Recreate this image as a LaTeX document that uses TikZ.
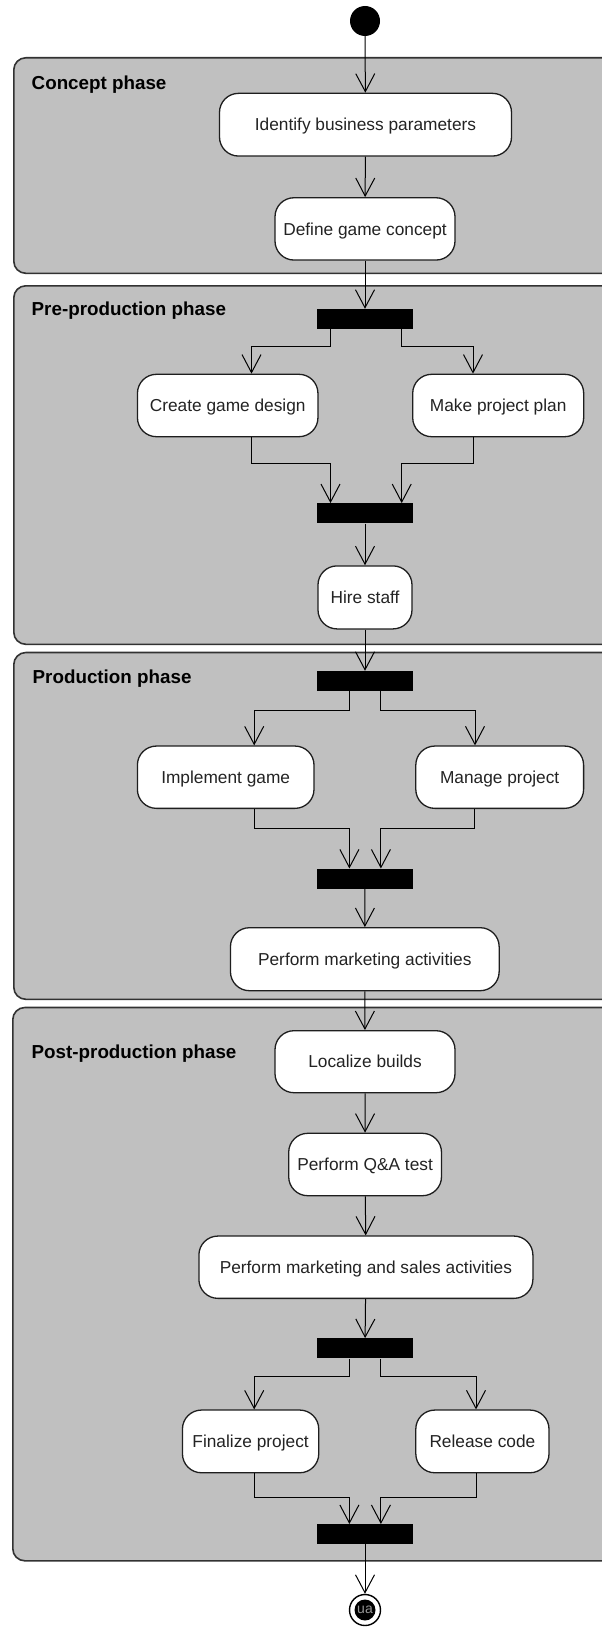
\documentclass[tikz,border=0pt]{standalone}
\usepackage{fontspec}
\setmainfont{Liberation Sans}
\usetikzlibrary{arrows.meta}

\definecolor{phasefill}{RGB}{192,192,192}
\definecolor{phaseline}{RGB}{50,50,50}
\definecolor{actline}{RGB}{30,30,30}
\definecolor{acttext}{RGB}{35,35,35}
\definecolor{endtext}{RGB}{150,150,150}

\tikzset{
  phasebox/.style={draw=phaseline, fill=phasefill, line width=1.6pt,
    rounded corners=12pt, anchor=north west, inner sep=0pt},
  phaselabel/.style={anchor=base west, inner sep=0pt, text=black,
    font=\bfseries\fontsize{18.8}{22}\selectfont},
  activity/.style={draw=actline, fill=white, line width=1.3pt,
    rounded corners=19pt, inner sep=0pt, text=acttext,
    text height=12.4pt, text depth=0pt,
    font=\fontsize{17.3}{20}\selectfont},
  bar/.style={fill=black, draw=none, minimum width=96pt, minimum height=20pt, inner sep=0pt},
  flow/.style={draw=black, line width=1pt,
    -{Straight Barb[length=18pt, width=19pt, line width=1pt]}},
}

\begin{document}
\begin{tikzpicture}[x=1pt, y=-1pt]
\useasboundingbox (0,0) rectangle (602,1627);
\clip (0,0) rectangle (602,1627);

% phase containers
\node[phasebox, minimum width=640pt, minimum height=215.5pt] (concept) at (13,57) {};
\node[phasebox, minimum width=640pt, minimum height=358.5pt] (pre) at (13,285) {};
\node[phasebox, minimum width=640pt, minimum height=346.8pt] (prod) at (13,651.7) {};
\node[phasebox, minimum width=640pt, minimum height=553.3pt] (post) at (12,1006.7) {};

\node[phaselabel] (conceptlbl) at (31.5,89.3) {Concept phase};
\node[phaselabel] (prelbl) at (31.5,315) {Pre-production phase};
\node[phaselabel] (prodlbl) at (32.5,683.3) {Production phase};
\node[phaselabel] (postlbl) at (31.5,1058.3) {Post-production phase};

% start node
\node[circle, fill=black, minimum size=30pt, inner sep=0pt] (start) at (365,21) {};

% concept phase
\node[activity, minimum width=292pt, minimum height=62.7pt] (ident) at (365.5,124.7) {Identify business parameters};
\node[activity, minimum width=180pt, minimum height=62.3pt] (define) at (365,228.9) {Define game concept};

% pre-production phase
\node[bar] (fork1) at (365,319) {};
\node[activity, minimum width=180.5pt, minimum height=62.4pt] (create) at (227.7,405.5) {Create game design};
\node[activity, minimum width=171pt, minimum height=62.4pt] (plan) at (498.2,405.5) {Make project plan};
\node[bar] (join1) at (365,513.3) {};
\node[activity, minimum width=94pt, minimum height=63pt] (hire) at (365,597.4) {Hire staff};

% production phase
\node[bar] (fork2) at (365,681) {};
\node[activity, minimum width=176.6pt, minimum height=62.3pt] (implement) at (225.7,777.2) {Implement game};
\node[activity, minimum width=167.8pt, minimum height=62.3pt] (manage) at (499.7,777.2) {Manage project};
\node[bar] (join2) at (365,878.7) {};
\node[activity, minimum width=268.7pt, minimum height=63pt] (marketing) at (364.8,959.2) {Perform marketing activities};

% post-production phase
\node[activity, minimum width=180pt, minimum height=62pt] (localize) at (365,1061.7) {Localize builds};
\node[activity, minimum width=152.8pt, minimum height=62.4pt] (qa) at (365.1,1164.5) {Perform Q\&A test};
\node[activity, minimum width=334pt, minimum height=62.3pt] (sales) at (365.9,1267.2) {Perform marketing and sales activities};
\node[bar] (fork4) at (365,1348.3) {};
\node[activity, minimum width=136.3pt, minimum height=62.7pt] (finalize) at (250.6,1441.4) {Finalize project};
\node[activity, minimum width=133.2pt, minimum height=62.7pt] (release) at (482.4,1441.4) {Release code};
\node[bar] (join4) at (365,1534.2) {};

% final node
\node[circle, draw=black, fill=white, line width=1.4pt, minimum size=31pt, inner sep=0pt] (final) at (365,1610) {};
\node[circle, fill=black, minimum size=21pt, inner sep=0pt] (finaldot) at (final.center) {};
\node[text=endtext, font=\fontsize{14}{15}\selectfont, inner sep=0pt] (finaltxt) at (final.center) {ua};

% control flow
\draw[flow] (start) -- (ident);
\draw[flow] (ident) -- (define);
\draw[flow] (define) -- (fork1);

\draw[flow] ([xshift=-34.5pt]fork1.south) -- ++(0,17) -| ([xshift=23.8pt]create.north);
\draw[flow] ([xshift=36.7pt]fork1.south) -- ++(0,17) -| ([xshift=-25.2pt]plan.north);
\draw[flow] ([xshift=23.8pt]create.south) -- ++(0,26) -| ([xshift=-34.5pt]join1.north);
\draw[flow] ([xshift=-25.2pt]plan.south) -- ++(0,26) -| ([xshift=36.7pt]join1.north);
\draw[flow] (join1) -- (hire);
\draw[flow] (hire) -- (fork2);

\draw[flow] ([xshift=-15.6pt]fork2.south) -- ++(0,19.7) -| ([xshift=28.5pt]implement.north);
\draw[flow] ([xshift=15.9pt]fork2.south) -- ++(0,19.7) -| ([xshift=-24.7pt]manage.north);
\draw[flow] ([xshift=28.5pt]implement.south) -- ++(0,19.4) -| ([xshift=-15.6pt]join2.north);
\draw[flow] ([xshift=-25.7pt]manage.south) -- ++(0,19.4) -| ([xshift=15.9pt]join2.north);
\draw[flow] (join2) -- (marketing);
\draw[flow] (marketing) -- (localize);

\draw[flow] (localize) -- (qa);
\draw[flow] (qa) -- (sales);
\draw[flow] (sales) -- (fork4);
\draw[flow] ([xshift=-15.6pt]fork4.south) -- ++(0,18.4) -| ([xshift=3.6pt]finalize.north);
\draw[flow] ([xshift=15.9pt]fork4.south) -- ++(0,18.4) -| ([xshift=-6.4pt]release.north);
\draw[flow] ([xshift=3.6pt]finalize.south) -- ++(0,24) -| ([xshift=-15.6pt]join4.north);
\draw[flow] ([xshift=-6.4pt]release.south) -- ++(0,24) -| ([xshift=15.9pt]join4.north);
\draw[flow] (join4) -- (final);
\end{tikzpicture}
\end{document}
